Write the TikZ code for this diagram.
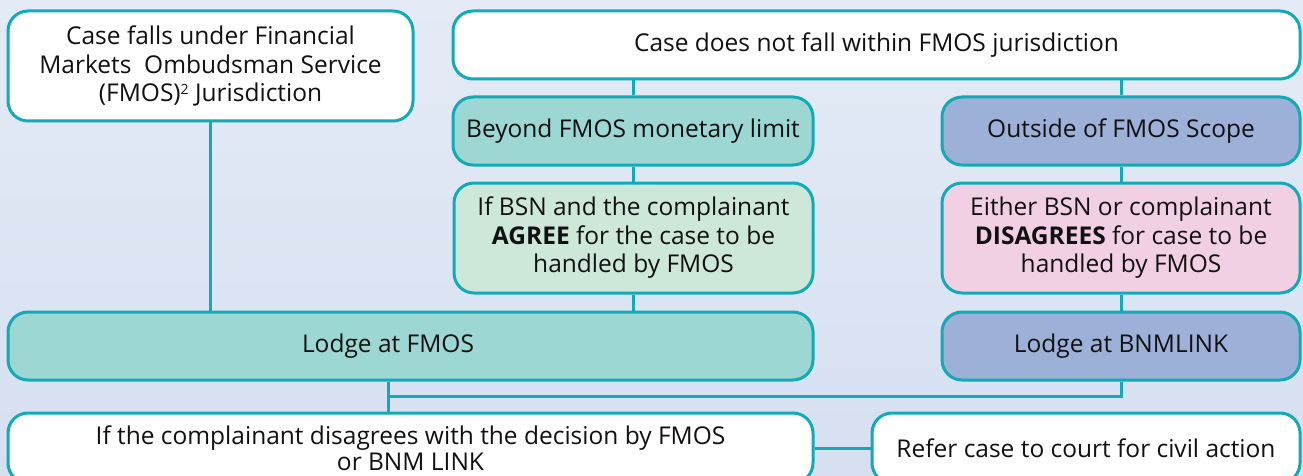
\documentclass[tikz,border=0pt]{standalone}
\usepackage{fontspec}
\setmainfont{Open Sans}
\definecolor{bgtop}{HTML}{E4EBF6}
\definecolor{bgbot}{HTML}{D6E0F1}
\definecolor{edge}{HTML}{12AAB6}
\definecolor{teal}{HTML}{9DD7D4}
\definecolor{mint}{HTML}{CDE8D8}
\definecolor{pink}{HTML}{F2D0E4}
\definecolor{blu}{HTML}{9CB0D8}
\definecolor{ink}{HTML}{111111}
\tikzset{
  box/.style={draw=edge, line width=3pt, rounded corners=20pt, inner sep=0pt,
    align=center, text=ink, font=\fontsize{24.5}{28.5}\selectfont},
  wbox/.style={box, fill=white},
  tbox/.style={box, fill=teal},
  gbox/.style={box, fill=mint},
  pbox/.style={box, fill=pink},
  bbox/.style={box, fill=blu},
  conn/.style={draw=edge, line width=3pt},
  txt/.style={text=ink, font=\fontsize{24.5}{28.5}\selectfont, align=center, inner sep=0pt}
}
\begin{document}
\begin{tikzpicture}[x=1pt,y=-1pt]
\useasboundingbox (0,0) rectangle (1303,476);
\clip (0,0) rectangle (1303,476);
\shade[top color=bgtop, bottom color=bgbot] (0,0) rectangle (1303,476);

% nodes
\node[wbox, minimum width=405pt, minimum height=110pt] (b1) at (210.5,66)
  {Case falls under Financial\\Markets\ \ Ombudsman Service\\(FMOS)\raisebox{7pt}{\fontsize{14}{14}\selectfont 2} Jurisdiction};
\node[wbox, minimum width=847pt, minimum height=68pt] (top) at (876.5,45)
  {Case does not fall within FMOS jurisdiction};
\node[tbox, minimum width=360pt, minimum height=68pt] (beyond) at (633,131)
  {Beyond FMOS monetary limit};
\node[bbox, minimum width=358pt, minimum height=68pt] (outside) at (1121,131)
  {Outside of FMOS Scope};
\node[gbox, minimum width=359pt, minimum height=110pt] (agree) at (633.5,238)
  {If BSN and the complainant\\\textbf{AGREE} for the case to be\\handled by FMOS};
\node[pbox, minimum width=358pt, minimum height=110pt] (disagree) at (1121,238)
  {Either BSN or complainant\\\textbf{DISAGREES} for case to be\\handled by FMOS};
\node[tbox, minimum width=805pt, minimum height=68pt] (lf) at (410.5,346) {};
\node[txt] (lft) at (388,346) {Lodge at FMOS};
\node[bbox, minimum width=358pt, minimum height=68pt] (lb) at (1121,346)
  {Lodge at BNMLINK};
\node[wbox, minimum width=805pt, minimum height=70pt, font=\fontsize{24.5}{26}\selectfont] (bl) at (410.5,448)
  {If the complainant disagrees with the decision by FMOS\\or BNM LINK};
\node[wbox, minimum width=428pt, minimum height=70pt] (br) at (1086,448)
  {Refer case to court for civil action};

% connectors
\coordinate (j) at (388,396);
\draw[conn] (b1.south) -- (b1.south |- lf.north);
\draw[conn] (beyond.north |- top.south) -- (beyond.north);
\draw[conn] (outside.north |- top.south) -- (outside.north);
\draw[conn] (beyond.south) -- (agree.north -| beyond.south);
\draw[conn] (agree.south) -- (lf.north -| agree.south);
\draw[conn] (outside.south) -- (disagree.north -| outside.south);
\draw[conn] (disagree.south) -- (lb.north -| disagree.south);
\draw[conn] (lf.south -| j) -- (bl.north -| j);
\draw[conn] (j) -| (lb.south);
\draw[conn] (bl.east) -- (br.west);
\end{tikzpicture}
\end{document}
